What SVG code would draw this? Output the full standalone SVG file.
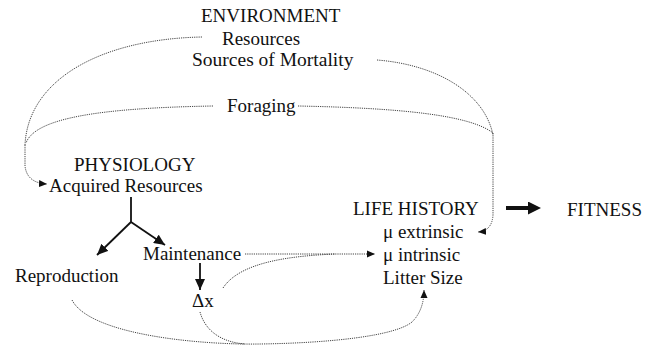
<svg xmlns="http://www.w3.org/2000/svg" width="658" height="347" viewBox="0 0 658 347">
<style>
text{font-family:"Liberation Serif","Times New Roman",serif;font-size:19px;fill:#111}
.dot{fill:none;stroke:#444;stroke-width:1;stroke-dasharray:1.2 1}
.solid{fill:none;stroke:#111;stroke-width:1.8}
</style>
<defs>
<marker id="sa" markerUnits="userSpaceOnUse" markerWidth="9" markerHeight="8" refX="8" refY="4" orient="auto"><path d="M0,0.5 L8,4 L0,7.5 Z" fill="#111"/></marker>
<marker id="ba" markerUnits="userSpaceOnUse" markerWidth="12" markerHeight="10" refX="11" refY="5" orient="auto"><path d="M0,0 L11,5 L0,10 Z" fill="#111"/></marker>
<marker id="big" markerUnits="userSpaceOnUse" markerWidth="14" markerHeight="13" refX="0" refY="6.5" orient="auto"><path d="M0,0 L13,6.5 L0,13 Z" fill="#111"/></marker>
</defs>
<rect width="658" height="347" fill="#fff"/>
<g id="environment">
<text x="201" y="22">ENVIRONMENT</text>
<text x="222" y="45">Resources</text>
<text x="192" y="66" style="font-size:19.5px">Sources of Mortality</text>
</g>
<g id="foraging"><text x="227" y="112">Foraging</text></g>
<g id="physiology">
<text x="74" y="171">PHYSIOLOGY</text>
<text x="49" y="192">Acquired Resources</text>
</g>
<g id="reproduction"><text x="15" y="282">Reproduction</text></g>
<g id="maintenance"><text x="143" y="260">Maintenance</text></g>
<g id="dx"><text x="192" y="307">Δx</text></g>
<g id="lifehistory">
<text x="353" y="215">LIFE HISTORY</text>
<text x="383" y="238">μ extrinsic</text>
<text x="383" y="261">μ intrinsic</text>
<text x="383" y="284">Litter Size</text>
</g>
<g id="fitness"><text x="567" y="216">FITNESS</text></g>
<g id="connectors">
<path class="dot" d="M202,37 C100,39 28,80 25,145"/>
<path class="dot" d="M213,106 C100,108 35,118 26,143"/>
<path class="dot" d="M25,145 L25,166 Q27,183 47,184" marker-end="url(#sa)"/>
<path class="dot" d="M377,60 C440,65 485,95 493,135"/>
<path class="dot" d="M298,106 C400,108 470,115 493,133"/>
<path class="dot" d="M493,133 L493,215 Q492,231 478,232" marker-end="url(#sa)"/>
<path class="dot" d="M245,254 L375,254" marker-end="url(#sa)"/>
<path class="dot" d="M223,288 C240,262 290,256 335,254"/>
<path class="dot" d="M72,300 C90,335 200,345 260,344 C330,343 395,336 412,322 Q424,310 424,290" marker-end="url(#sa)"/>
<path class="dot" d="M200,312 C205,330 220,342 245,344"/>
<path class="solid" d="M131,197 L131,222"/>
<path class="solid" d="M131,222 L97,255" marker-end="url(#ba)"/>
<path class="solid" d="M131,222 L165,245" marker-end="url(#ba)"/>
<path class="solid" d="M200,263 L200,290" marker-end="url(#ba)"/>
<path class="solid" style="stroke-width:4" d="M506,208 L528,208" marker-end="url(#big)"/>
</g>
</svg>
